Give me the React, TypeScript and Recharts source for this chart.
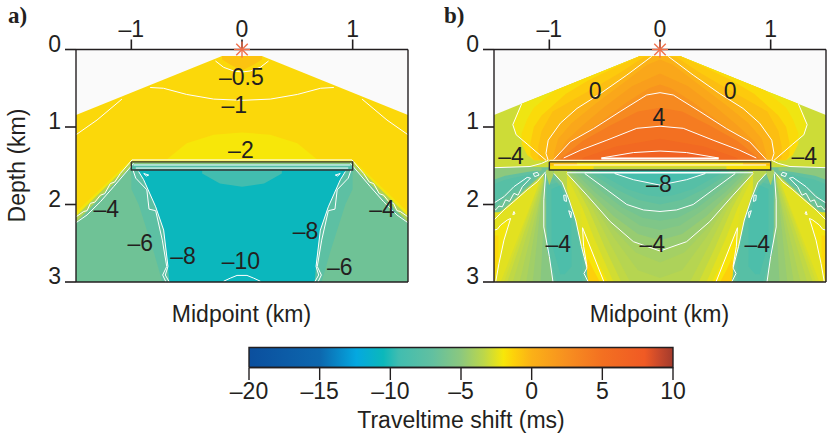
import React from 'react';
import { ComposedChart, XAxis, YAxis, Area, Line, ReferenceDot, Label } from 'recharts';

type Row = number[];
type Band = { v: number; rows: Row[] };

// ---------- colour scale (value in ms, colour)
const scaleValues = [-20, -15, -12.4, -10.5, -9.4, -7, -5, -3.4, -2, -1.3, 0, 2.5, 5, 8, 9, 10];
const scaleColours = ['#0b4f9e', '#0d67ae', '#04a8e0', '#0bb8bb', '#41bdb0', '#62c0a0', '#8cc87e', '#bcd74a', '#f7e709', '#fdd20a', '#fbb117', '#f78f20', '#f37021', '#f05a24', '#c9492b', '#a33b2c'];
const cbMajor = [-20, -15, -10, -5, 0, 5, 10];
const cbMinor = [-19, -18, -17, -16, -14, -13, -12, -11, -9, -8, -7, -6, -4, -3, -2, -1, 1, 2, 3, 4, 6, 7, 8, 9];
const cbExtent: Row[] = [[-20, 0, 1], [10, 0, 1]];
const cbFrame: Row[] = [[-20, 0], [10, 0], [10, 1], [-20, 1], [-20, 0]];

const xMajor = [-1, 0, 1];
const xMinor = [-1.4, -1.2, -0.8, -0.6, -0.4, -0.2, 0.2, 0.4, 0.6, 0.8, 1.2, 1.4];
const yMajor = [0, 1, 2, 3];
const yMinor = [0.2, 0.4, 0.6, 0.8, 1.2, 1.4, 1.6, 1.8, 2.2, 2.4, 2.6, 2.8];

// ---------- panel a: [x km, upper depth km, lower depth km]; negative half, mirrored when drawn
const bandsA: Band[] = [
  { v: -1.5, rows: [[-1.5, 0.845, 3], [-0.18, 0.085, 3], [0, 0.085, 3]] },
  { v: -0.7, rows: [[-0.18, 0.085, 0.13], [-0.1, 0.085, 0.2], [0, 0.085, 0.27]] },
  { v: -2, rows: [[-0.68, 1.42, 1.45], [-0.5, 1.21, 1.45], [-0.256, 1.1, 1.45], [0, 1.07, 1.45]] },
  { v: -2.1, rows: [[-1.5, 2.1, 3], [-1, 1.42, 3], [0, 1.42, 3]] },
  { v: -3.8, rows: [[-1.5, 2.15, 3], [-1, 1.45, 3], [0, 1.45, 3]] },
  { v: -6.4, rows: [[-1.5, 2.23, 3], [-1, 1.5, 3], [0, 1.5, 3]] },
  { v: -7.4, rows: [[-1, 1.55, 1.8], [-0.934, 1.555, 2.0], [-0.8, 1.555, 2.6], [-0.72, 1.555, 3], [0, 1.555, 3]] },
  { v: -10.6, rows: [[-0.934, 1.555, 1.575], [-0.889, 1.555, 1.68], [-0.78, 1.555, 2.03], [-0.708, 1.555, 2.33], [-0.669, 1.555, 2.8], [-0.657, 1.555, 3], [0, 1.555, 3]] },
  { v: -9.3, rows: [[-0.36, 1.555, 1.6], [-0.2, 1.555, 1.73], [0, 1.555, 1.77]] },
  { v: -8, rows: [[-1, 1.45, 1.555], [0, 1.45, 1.555]] },
  { v: -4.5, rows: [[-1, 1.45, 1.475], [0, 1.45, 1.475]] },
];
const linesA: Row[][] = [
  [[-0.24, 0.148], [-0.166, 0.23], [-0.075, 0.277], [0, 0.29]],
  [[-0.83, 0.49], [-0.71, 0.5], [-0.5, 0.58], [-0.256, 0.64], [0, 0.656]],
  [[-1.5, 1.1], [-1.31, 0.91], [-1.085, 0.64]],
  [[-1.5, 2.16], [-1.43, 2.09], [-1.4, 2.08], [-1.37, 1.985], [-1.33, 1.97], [-1.28, 1.88], [-1.24, 1.86], [-1.19, 1.73], [-1.15, 1.71], [-1.1, 1.6], [-0.994, 1.425], [0, 1.425]],
  [[-1.5, 2.235], [-1.4, 2.135], [-1.28, 1.965], [-1.16, 1.77], [-0.98, 1.47]],
  [[-0.985, 1.555], [-0.96, 1.66], [-0.86, 1.81], [-0.84, 2.06], [-0.78, 2.08], [-0.72, 2.46], [-0.68, 2.8], [-0.717, 2.91], [-0.687, 3]],
  [[-0.934, 1.575], [-0.889, 1.68], [-0.78, 2.03], [-0.708, 2.33], [-0.669, 2.8], [-0.693, 2.91], [-0.657, 3]],
  [[-0.166, 2.99], [-0.105, 2.95], [-0.045, 2.915], [0, 2.915]],
  [[-0.888, 1.6], [-0.843, 1.62], [-0.864, 1.633], [-0.888, 1.6]],
  [[-0.98, 1.49], [0, 1.49]],
  [[-0.96, 1.53], [0, 1.53]],
];
const labelsAx = [-0.006, -0.07, -0.01, -1.226, 1.265, -0.92, 0.883, -0.533, 0.575, -0.01];
const labelsAd = [0.35, 0.716, 1.297, 2.05, 2.05, 2.5, 2.8, 2.66, 2.34, 2.73];
const labelsAt = ['–0.5', '–1', '–2', '–4', '–4', '–6', '–6', '–8', '–8', '–10'];

// ---------- panel b
const T = 1.43;
const bandsB: Band[] = [
  // upper lobe, outer to inner
  { v: -3, rows: [[-1.5, 0.845, 1.55], [-0.18, 0.085, 1.55], [0, 0.085, 1.55]] },
  { v: -2.2, rows: [[-1.33, 0.97, 0.97], [-1.3, 0.84, 1.1], [-1.25, 0.7, 1.16], [-1.2, 0.67, 1.22], [-1.03, 0.575, T], [-1, 0.557, T], [-0.18, 0.085, T], [0, 0.085, T]] },
  { v: -1.6, rows: [[-1.25, 1.08, 1.22], [-1.2, 0.9, 1.36], [-1.14, 0.75, T], [-0.95, 0.53, T], [-0.18, 0.085, T], [0, 0.085, T]] },
  { v: -1, rows: [[-1.17, 1.2, 1.36], [-1.14, 1, T], [-1.07, 0.85, T], [-0.85, 0.57, T], [-0.65, 0.4, T], [-0.4, 0.225, T], [-0.18, 0.085, T], [0, 0.085, T]] },
  { v: -0.5, rows: [[-1.1, 1.25, 1.4], [-1.07, 1.05, T], [-0.97, 0.8, T], [-0.8, 0.66, T], [-0.6, 0.5, T], [-0.35, 0.29, T], [-0.15, 0.1, T], [0, 0.085, T]] },
  { v: 0, rows: [[-1.03, 1.34, 1.4], [-1.01, 1.17, T], [-0.9, 0.95, T], [-0.75, 0.76, T], [-0.54, 0.57, T], [-0.3, 0.33, T], [-0.075, 0.09, T], [0, 0.085, T]] },
  { v: 0.7, rows: [[-0.96, 1.35, 1.4], [-0.92, 1.15, T], [-0.8, 0.95, T], [-0.6, 0.72, T], [-0.35, 0.45, T], [-0.12, 0.2, T], [0, 0.13, T]] },
  { v: 1.4, rows: [[-0.93, 1.38, 1.41], [-0.85, 1.18, T], [-0.7, 0.98, T], [-0.5, 0.74, T], [-0.25, 0.47, T], [0, 0.31, T]] },
  { v: 2.1, rows: [[-0.92, 1.4, 1.41], [-0.75, 1.15, T], [-0.55, 0.95, T], [-0.3, 0.68, T], [-0.1, 0.5, T], [0, 0.45, T]] },
  { v: 3, rows: [[-0.96, 1.42, T], [-0.81, 1.19, T], [-0.6, 1.02, T], [-0.36, 0.8, T], [-0.12, 0.587, T], [0, 0.557, T]] },
  { v: 4, rows: [[-0.9, 1.41, T], [-0.7, 1.18, T], [-0.45, 0.98, T], [-0.2, 0.8, T], [0, 0.75, T]] },
  { v: 5, rows: [[-0.87, 1.4, T], [-0.72, 1.3, T], [-0.48, 1.17, T], [-0.21, 1.017, T], [0, 0.99, T]] },
  { v: 6, rows: [[-0.7, 1.4, T], [-0.4, 1.25, T], [0, 1.15, T]] },
  { v: 7, rows: [[-0.53, 1.4, T], [-0.24, 1.33, T], [0, 1.31, T]] },
  // lower half: base, then side wedges
  { v: -6.4, rows: [[-1.5, 1.52, 3], [0, 1.52, 3]] },
  { v: -5, rows: [[-1.5, 1.52, 1.68], [-1.07, 1.52, 1.56]] },
  { v: -7, rows: [[-1.5, 1.68, 2.05], [-1.4, 1.63, 1.92], [-1.2, 1.58, 1.76], [-1.1, 1.56, 1.62]] },
  { v: -7.8, rows: [[-1.5, 1.74, 1.98], [-1.4, 1.68, 1.85], [-1.2, 1.62, 1.7], [-1.15, 1.6, 1.62]] },
  { v: -5.2, rows: [[-1.5, 2.18, 3], [-1.05, 1.6, 3], [-1, 2.67, 3], [-0.967, 3, 3]] },
  { v: -4.65, rows: [[-1.5, 2.18, 3], [-1.08, 1.63, 3], [-1.05, 1.6, 2.2]] },
  { v: -4.3, rows: [[-1.5, 2.18, 3], [-1.15, 1.73, 3], [-1.05, 1.6, 1.62]] },
  { v: -3.95, rows: [[-1.5, 2.18, 3], [-1.21, 1.8, 3], [-1.05, 1.6, 1.66]] },
  { v: -3.6, rows: [[-1.5, 2.18, 3], [-1.27, 1.88, 3], [-1.05, 1.6, 1.7]] },
  { v: -3.3, rows: [[-1.5, 2.18, 3], [-1.33, 1.96, 3], [-1.06, 1.62, 1.7]] },
  { v: -3, rows: [[-1.5, 2.18, 3], [-1.38, 2.02, 3], [-1.07, 1.65, 1.7]] },
  { v: -2.75, rows: [[-1.5, 2.14, 3], [-1.41, 2.06, 3], [-1.09, 1.68, 1.72]] },
  { v: -2.5, rows: [[-1.5, 2.1, 3], [-1.44, 2.1, 3], [-1.1, 1.7, 1.75]] },
  { v: -2.1, rows: [[-1.5, 2.33, 3], [-1.476, 2.32, 2.97], [-1.455, 2.28, 2.76], [-1.41, 2.23, 2.46], [-1.38, 2.2, 2.3], [-1.35, 2.18, 2.18]] },
  { v: -1.5, rows: [[-1.5, 2.4, 3], [-1.46, 2.4, 2.7]] },
  { v: -7, rows: [[-1.03, 1.7, 2.3], [-0.97, 1.66, 3], [-0.86, 1.8, 3], [-0.76, 2.2, 3], [-0.68, 2.7, 3]] },
  { v: -7.8, rows: [[-1.02, 1.75, 2.6], [-0.93, 1.72, 3], [-0.83, 1.95, 3], [-0.76, 2.3, 3], [-0.7, 2.7, 3]] },
  { v: -8.5, rows: [[-0.98, 1.8, 2.5], [-0.9, 1.75, 2.9], [-0.86, 1.9, 2.9], [-0.8, 2.2, 2.8]] },
  { v: -4, rows: [[-1.03, 1.55, 1.6], [-1, 1.55, 1.75], [-0.96, 1.55, 1.6]] },
  // lower centre bowls
  { v: -3.5, rows: [[-0.958, 1.55, 1.6], [-0.883, 1.55, 1.72], [-0.822, 1.55, 1.94], [-0.762, 1.55, 2.2], [-0.71, 1.55, 2.54], [-0.66, 1.55, 2.82], [-0.648, 1.55, 3], [0, 1.55, 3]] },
  { v: -2.6, rows: [[-0.84, 1.55, 1.8], [-0.762, 1.55, 2.2], [-0.71, 1.55, 2.54], [-0.66, 1.55, 2.82], [-0.648, 1.55, 3], [0, 1.55, 3]] },
  { v: -1.9, rows: [[-0.7, 1.55, 2.4], [-0.66, 1.55, 2.82], [-0.648, 1.55, 3], [0, 1.55, 3]] },
  { v: -2.5, rows: [[-0.72, 1.55, 2.05], [-0.7, 1.55, 2.31], [-0.55, 1.55, 2.78], [-0.47, 1.55, 3], [0, 1.55, 3]] },
  { v: -2.9, rows: [[-0.85, 1.55, 1.6], [-0.7, 1.55, 2.05], [-0.6, 1.55, 2.42], [-0.42, 1.55, 3], [0, 1.55, 3]] },
  { v: -3.3, rows: [[-0.82, 1.55, 1.6], [-0.65, 1.55, 2.05], [-0.5, 1.55, 2.55], [-0.35, 1.55, 3], [0, 1.55, 3]] },
  { v: -3.6, rows: [[-0.82, 1.55, 1.6], [-0.62, 1.55, 2.02], [-0.46, 1.55, 2.48], [-0.27, 1.55, 3], [0, 1.55, 3]] },
  { v: -3.9, rows: [[-0.82, 1.55, 1.6], [-0.6, 1.55, 2], [-0.42, 1.55, 2.42], [-0.2, 1.55, 2.85], [0, 1.55, 2.95]] },
  { v: -4.2, rows: [[-0.83, 1.55, 1.6], [-0.62, 1.55, 1.93], [-0.43, 1.55, 2.3], [-0.22, 1.55, 2.62], [0, 1.55, 2.75]] },
  { v: -4.6, rows: [[-0.84, 1.55, 1.6], [-0.66, 1.55, 1.88], [-0.45, 1.55, 2.22], [-0.24, 1.55, 2.48], [0, 1.55, 2.6]] },
  { v: -5.1, rows: [[-0.8, 1.55, 1.6], [-0.62, 1.55, 1.86], [-0.42, 1.55, 2.15], [-0.2, 1.55, 2.38], [0, 1.55, 2.46]] },
  { v: -5.6, rows: [[-0.76, 1.55, 1.6], [-0.58, 1.55, 1.85], [-0.38, 1.55, 2.08], [-0.18, 1.55, 2.27], [0, 1.55, 2.33]] },
  { v: -6.1, rows: [[-0.72, 1.55, 1.6], [-0.53, 1.55, 1.83], [-0.34, 1.55, 2.04], [-0.16, 1.55, 2.17], [0, 1.55, 2.21]] },
  { v: -6.6, rows: [[-0.68, 1.55, 1.6], [-0.48, 1.55, 1.81], [-0.3, 1.55, 2], [-0.15, 1.55, 2.07], [0, 1.55, 2.09]] },
  { v: -7.2, rows: [[-0.62, 1.55, 1.6], [-0.4, 1.55, 1.8], [-0.2, 1.55, 1.94], [0, 1.55, 2]] },
  { v: -7.9, rows: [[-0.55, 1.55, 1.6], [-0.3, 1.55, 1.8], [-0.12, 1.55, 1.88], [0, 1.55, 1.9]] },
  { v: -9, rows: [[-0.41, 1.55, 1.6], [-0.24, 1.55, 1.68], [0, 1.55, 1.75]] },
  { v: -1.2, rows: [[-0.66, 2.75, 2.82], [-0.648, 2.7, 3], [-0.6, 2.85, 3], [-0.55, 2.98, 3]] },
  // inside the target layer
  { v: -1.8, rows: [[-1, 1.43, 1.555], [0, 1.43, 1.555]] },
  { v: -3.2, rows: [[-0.6, 1.51, 1.555], [0, 1.51, 1.555]] },
  { v: -0.6, rows: [[-1, 1.455, 1.5], [-0.75, 1.46, 1.49]] },
];
const linesB: Row[][] = [
  [[-1.01, 1.43], [-1.03, 1.34], [-1.01, 1.17], [-0.9, 0.95], [-0.75, 0.76], [-0.54, 0.57], [-0.3, 0.33], [-0.075, 0.09]],
  [[-0.96, 1.42], [-0.81, 1.19], [-0.6, 1.02], [-0.36, 0.8], [-0.12, 0.587], [0, 0.557]],
  [[-0.87, 1.4], [-0.72, 1.3], [-0.48, 1.17], [-0.21, 1.017], [0, 0.99]],
  [[-0.53, 1.4], [-0.24, 1.33], [0, 1.31]],
  [[-1, 1.43], [0, 1.43]],
  [[-0.96, 1.49], [0, 1.49]],
  [[-1.25, 0.7], [-1.33, 0.97], [-1.3, 1.1], [-1.2, 1.22], [-1.03, 1.43]],
  [[-1.5, 1.525], [-1.175, 1.51], [-1.07, 1.47], [-1.01, 1.43]],
  [[-0.41, 1.6], [-0.24, 1.68], [0, 1.75]],
  [[-0.41, 1.59], [0, 1.59]],
  [[-0.68, 1.6], [-0.48, 1.81], [-0.3, 2], [-0.15, 2.07], [0, 2.09]],
  [[-0.68, 1.59], [0, 1.59]],
  [[-0.84, 1.6], [-0.66, 1.88], [-0.45, 2.22], [-0.24, 2.48], [0, 2.6]],
  [[-0.84, 1.59], [0, 1.59]],
  [[-0.7, 2.3], [-0.506, 3]],
  [[-0.958, 1.6], [-0.883, 1.72], [-0.822, 1.94], [-0.762, 2.2], [-0.71, 2.54], [-0.687, 2.67], [-0.66, 2.82], [-0.687, 2.89], [-0.648, 3]],
  [[-0.7, 2.3], [-0.69, 2.54], [-0.66, 2.8]],
  [[-1.033, 1.6], [-1.05, 1.94], [-1.05, 2.29], [-1, 2.67], [-0.967, 3]],
  [[-1.5, 1.98], [-1.41, 1.9], [-1.32, 1.77], [-1.2, 1.65], [-1.17, 1.66], [-1.244, 1.77], [-1.283, 1.88], [-1.32, 1.856], [-1.36, 1.96], [-1.395, 1.94], [-1.425, 2.03], [-1.455, 2.02], [-1.485, 2.07], [-1.5, 2.05]],
  [[-1.145, 1.6], [-1.108, 1.585], [-1.093, 1.62], [-1.132, 1.64], [-1.145, 1.6]],
  [[-1.5, 2.2], [-1.41, 2.07], [-1.32, 1.96], [-1.2, 1.81], [-1.108, 1.705], [-1.033, 1.577]],
  [[-1.5, 2.33], [-1.47, 2.32], [-1.44, 2.265], [-1.38, 2.2], [-1.35, 2.18], [-1.41, 2.46], [-1.455, 2.76], [-1.485, 3]],
  [[-0.87, 1.88], [-0.85, 1.88], [-0.845, 1.96], [-0.865, 1.95], [-0.87, 1.88]],
  [[-0.825, 2.08], [-0.8, 2.1], [-0.805, 2.17], [-0.825, 2.08]],
  [[-1.32, 2.09], [-1.31, 2.12], [-1.33, 2.13], [-1.32, 2.09]],
];
const thickLinesB: Row[][] = [[[-0.53, 1.405], [0, 1.405]]];
const labelsBx = [-0.587, 0.633, -0.01, -1.346, 1.304, -0.01, -0.92, -0.07, 0.88];
const labelsBd = [0.535, 0.535, 0.867, 1.37, 1.37, 1.735, 2.51, 2.51, 2.51];
const labelsBt = ['0', '0', '4', '–4', '–4', '–8', '–4', '–4', '–4'];

const layerRect: Row[] = [[-1, 1.45], [1, 1.45], [1, 1.555], [-1, 1.555], [-1, 1.45]];
const plotExtent: Row[] = [[-1.5, 0, 3], [1.5, 0, 3]];
const sourcePoint: Row[] = [[0, 0]];

// ---------- helpers
const INK = '#231f20';
const FONT = '"Liberation Sans", Arial, sans-serif';
const FS = 23;
const THIN = 0.001;

function hexToRgb(h: string) {
  return [1, 3, 5].map((i) => parseInt(h.slice(i, i + 2), 16));
}
function colourOf(v: number) {
  let i = 0;
  while (i < scaleValues.length - 2 && v > scaleValues[i + 1]) i++;
  const t = Math.min(1, Math.max(0, (v - scaleValues[i]) / (scaleValues[i + 1] - scaleValues[i])));
  const a = hexToRgb(scaleColours[i]);
  const b = hexToRgb(scaleColours[i + 1]);
  return `rgb(${a.map((c, k) => Math.round(c + (b[k] - c) * t)).join(',')})`;
}
// a half-profile ending on x = 0 is closed over the centre; any other becomes a pair
function symmetric(rows: Row[]): Row[][] {
  const flip = (r: Row) => [-r[0], ...r.slice(1)];
  if (rows[rows.length - 1][0] === 0) {
    return [[...rows, ...rows.slice(0, -1).reverse().map(flip)]];
  }
  return [rows, rows.map(flip)];
}
const fmt = (v: number) => String(v).replace('-', '–');

function star(props: any) {
  const { cx, cy } = props;
  if (cx == null) return <g key="s" />;
  const r = 8;
  const k = r * 0.72;
  return (
    <g key="star" stroke="#f0704a" strokeWidth={1.4}>
      <line x1={cx - r} y1={cy} x2={cx + r} y2={cy} />
      <line x1={cx} y1={cy - r} x2={cx} y2={cy + r} />
      <line x1={cx - k} y1={cy - k} x2={cx + k} y2={cy + k} />
      <line x1={cx - k} y1={cy + k} x2={cx + k} y2={cy - k} />
    </g>
  );
}

const commonTick = { fontSize: FS, fill: INK, fontFamily: FONT };

function Panel(props: { width: number; left: number; bands: Band[]; lines: Row[][]; thick?: Row[][]; lx: number[]; ld: number[]; lt: string[]; depthTitle?: boolean }) {
  const { width, left, bands, lines, thick = [], lx, ld, lt, depthTitle } = props;
  const margin = { top: 49.5, left: 76, right: width - 76 - 332, bottom: 330 - 282 };
  const ax = { stroke: INK, strokeWidth: 1.4 };
  const major = { stroke: INK, strokeWidth: 1.6 };
  const minor = { stroke: INK, strokeWidth: 1.1 };
  const dom: [number, number] = [-1.5, 1.5];
  const ydom: [number, number] = [0, 3];
  return (
    <div style={{ position: 'absolute', left, top: 0 }}>
      <ComposedChart width={width} height={330} margin={margin} style={{ fontFamily: FONT }}>
        <Area xAxisId="top" yAxisId="left" data={plotExtent.map((r) => ({ x: r[0], r: [r[1], r[2]] }))} dataKey="r" type="linear" fill="#fafafa" fillOpacity={1} stroke="none" dot={false} activeDot={false} isAnimationActive={false} />
        {bands.flatMap((b, i) =>
          symmetric(b.rows).map((rows, j) => (
            <Area key={`b${i}-${j}`} xAxisId="top" yAxisId="left" data={rows.map((r) => ({ x: r[0], r: [r[1], r[2]] }))} dataKey="r" type="linear" fill={colourOf(b.v)} fillOpacity={1} stroke="none" dot={false} activeDot={false} isAnimationActive={false} />
          ))
        )}
        {lines.flatMap((l, i) =>
          symmetric(l).map((rows, j) => (
            <Line key={`l${i}-${j}`} xAxisId="top" yAxisId="left" data={rows.map((r) => ({ x: r[0], d: r[1] }))} dataKey="d" type="linear" stroke="#ffffff" strokeWidth={1} dot={false} activeDot={false} isAnimationActive={false} />
          ))
        )}
        {thick.flatMap((l, i) =>
          symmetric(l).map((rows, j) => (
            <Line key={`t${i}-${j}`} xAxisId="top" yAxisId="left" data={rows.map((r) => ({ x: r[0], d: r[1] }))} dataKey="d" type="linear" stroke="#ffffff" strokeWidth={2} dot={false} activeDot={false} isAnimationActive={false} />
          ))
        )}
        <Line xAxisId="top" yAxisId="left" data={layerRect.map((r) => ({ x: r[0], d: r[1] }))} dataKey="d" type="linear" stroke="#333" strokeWidth={1.4} dot={false} activeDot={false} isAnimationActive={false} />
        <XAxis xAxisId="top" orientation="top" type="number" dataKey="x" domain={dom} ticks={xMajor} interval={0} height={THIN} axisLine={ax} tickLine={major} tickSize={10} tickMargin={3} tick={commonTick} tickFormatter={fmt} />
        <XAxis xAxisId="topMinor" orientation="top" type="number" domain={dom} ticks={xMinor} interval={0} height={THIN} axisLine={false} tickLine={minor} tickSize={5} tick={false} />
        <XAxis xAxisId="bottom" orientation="bottom" type="number" domain={dom} ticks={xMajor} interval={0} height={THIN} axisLine={ax} tickLine={major} tickSize={11} tick={false}>
          <Label content={() => (
            <text x={241.5} y={322} textAnchor="middle" fontSize={FS} fontFamily={FONT} fill={INK}>Midpoint (km)</text>
          )} />
        </XAxis>
        <XAxis xAxisId="bottomMinor" orientation="bottom" type="number" domain={dom} ticks={xMinor} interval={0} height={THIN} axisLine={false} tickLine={minor} tickSize={5} tick={false} />
        <YAxis yAxisId="left" orientation="left" type="number" dataKey="d" reversed domain={ydom} ticks={yMajor} interval={0} width={THIN} axisLine={ax} tickLine={major} tickSize={11} tickMargin={4} tick={{ ...commonTick, dy: -6 }}>
          {depthTitle ? (
            <Label content={() => (
              <text x={25} y={165.5} transform="rotate(-90 25 165.5)" textAnchor="middle" fontSize={FS} fontFamily={FONT} fill={INK}>Depth (km)</text>
            )} />
          ) : null}
        </YAxis>
        <YAxis yAxisId="leftMinor" orientation="left" type="number" reversed domain={ydom} ticks={yMinor} interval={0} width={THIN} axisLine={false} tickLine={minor} tickSize={5} tick={false} />
        <YAxis yAxisId="right" orientation="right" type="number" reversed domain={ydom} ticks={yMajor} interval={0} width={THIN} axisLine={ax} tickLine={major} tickSize={10} tick={false} />
        <YAxis yAxisId="rightMinor" orientation="right" type="number" reversed domain={ydom} ticks={yMinor} interval={0} width={THIN} axisLine={false} tickLine={minor} tickSize={5} tick={false} />
        <Line xAxisId="top" yAxisId="left" data={sourcePoint.map((r) => ({ x: r[0], d: r[1] }))} dataKey="d" stroke="none" dot={star} activeDot={false} isAnimationActive={false} />
        {lt.map((t, i) => (
          <ReferenceDot key={`t${i}`} xAxisId="top" yAxisId="left" x={lx[i]} y={ld[i]} r={0} fill="none" stroke="none" ifOverflow="visible" label={{ value: t, position: 'center', fontSize: FS, fill: INK, fontFamily: FONT }} />
        ))}
      </ComposedChart>
    </div>
  );
}

function ColourBar() {
  const dom: [number, number] = [-20, 10];
  const gradientStops = scaleValues.map((v, i) => ({ off: (v + 20) / 30, c: scaleColours[i] }));
  return (
    <div style={{ position: 'absolute', left: 0, top: 330 }}>
      <ComposedChart width={834} height={103} margin={{ top: 17.5, left: 249, right: 161, bottom: 65.5 }}>
        <defs>
          <linearGradient id="cb" x1="0" x2="1" y1="0" y2="0">
            {gradientStops.map((s, i) => <stop key={i} offset={s.off} stopColor={s.c} />)}
          </linearGradient>
        </defs>
        <YAxis yAxisId="c" type="number" dataKey="d" domain={[0, 1]} hide />
        <Area xAxisId="m" yAxisId="c" data={cbExtent.map((r) => ({ x: r[0], r: [r[1], r[2]] }))} dataKey="r" type="linear" fill="url(#cb)" fillOpacity={1} stroke="none" dot={false} activeDot={false} isAnimationActive={false} />
        <Line xAxisId="m" yAxisId="c" data={cbFrame.map((r) => ({ x: r[0], d: r[1] }))} dataKey="d" type="linear" stroke={INK} strokeWidth={1.4} dot={false} activeDot={false} isAnimationActive={false} />
        <XAxis xAxisId="m" orientation="bottom" type="number" dataKey="x" domain={dom} ticks={cbMajor} interval={0} height={THIN} axisLine={{ stroke: INK, strokeWidth: 1.4 }} tickLine={{ stroke: INK, strokeWidth: 1.4 }} tickSize={12.5} tickMargin={3} tick={commonTick} tickFormatter={fmt}>
          <Label content={() => (
            <text x={461} y={98} textAnchor="middle" fontSize={FS} fontFamily={FONT} fill={INK}>Traveltime shift (ms)</text>
          )} />
        </XAxis>
        <XAxis xAxisId="n" orientation="bottom" type="number" domain={dom} ticks={cbMinor} interval={0} height={THIN} axisLine={false} tickLine={{ stroke: INK, strokeWidth: 1 }} tickSize={6.5} tick={false} />
      </ComposedChart>
    </div>
  );
}

const titleStyle: React.CSSProperties = { position: 'absolute', top: 3, fontFamily: '"Liberation Serif", serif', fontWeight: 700, fontSize: 23, color: INK, lineHeight: '26px' };

export default function App() {
  return (
    <div style={{ position: 'absolute', left: 0, top: 0, width: 834, height: 433, overflow: 'hidden', background: '#fff' }}>
      <Panel width={418} left={0} bands={bandsA} lines={linesA} lx={labelsAx} ld={labelsAd} lt={labelsAt} depthTitle />
      <Panel width={416} left={418} bands={bandsB} lines={linesB} thick={thickLinesB} lx={labelsBx} ld={labelsBd} lt={labelsBt} />
      <ColourBar />
      <div style={{ ...titleStyle, left: 8 }}>a)</div>
      <div style={{ ...titleStyle, left: 444 }}>b)</div>
    </div>
  );
}
